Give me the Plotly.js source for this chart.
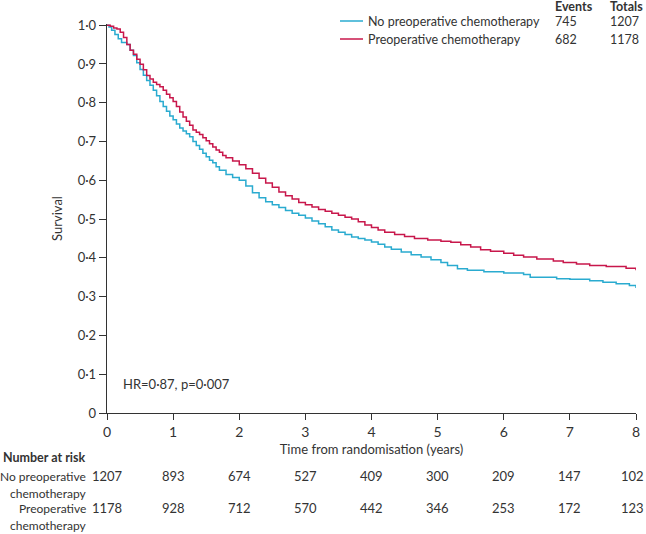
<!DOCTYPE html>
<html>
<head>
<meta charset="utf-8">
<script src="https://cdn.plot.ly/plotly-3.0.1.min.js"></script>
<style>html,body{margin:0;padding:0;background:#fff;}#chart{width:646px;height:534px;}</style>
</head>
<body>
<div id="chart"></div>
<script>
// ---- data ----
const noChemoTime = [0,0.03,0.07,0.12,0.17,0.22,0.3,0.35,0.4,0.45,0.5,0.55,0.6,0.65,0.7,0.75,0.8,0.85,0.9,0.95,1.0,1.05,1.1,1.15,1.2,1.25,1.3,1.35,1.4,1.45,1.5,1.55,1.6,1.65,1.7,1.8,1.9,2.0,2.1,2.2,2.3,2.4,2.5,2.6,2.7,2.8,2.9,3.0,3.1,3.2,3.3,3.4,3.5,3.6,3.7,3.8,3.9,4.0,4.1,4.2,4.3,4.45,4.6,4.75,4.9,5.05,5.15,5.3,5.45,5.7,6.0,6.3,6.4,6.8,7.0,7.3,7.5,7.7,7.9,8.0];
const noChemoSurv = [1.0,0.995,0.987,0.976,0.965,0.955,0.95,0.935,0.922,0.903,0.886,0.871,0.857,0.845,0.832,0.818,0.803,0.79,0.778,0.766,0.756,0.745,0.735,0.727,0.72,0.712,0.7,0.69,0.68,0.67,0.661,0.652,0.645,0.635,0.626,0.615,0.607,0.6,0.585,0.568,0.555,0.545,0.537,0.53,0.522,0.515,0.51,0.503,0.495,0.488,0.48,0.472,0.466,0.46,0.454,0.45,0.446,0.441,0.435,0.428,0.422,0.415,0.408,0.402,0.395,0.388,0.38,0.372,0.368,0.364,0.361,0.357,0.35,0.346,0.345,0.341,0.337,0.333,0.329,0.322];

const preChemoTime = [0,0.05,0.1,0.15,0.2,0.25,0.3,0.35,0.4,0.45,0.5,0.55,0.6,0.65,0.7,0.75,0.8,0.85,0.9,0.95,1.0,1.05,1.1,1.15,1.2,1.25,1.3,1.35,1.4,1.45,1.5,1.55,1.6,1.65,1.7,1.75,1.8,1.9,2.0,2.1,2.2,2.3,2.4,2.5,2.6,2.7,2.8,2.9,3.0,3.1,3.2,3.3,3.4,3.5,3.6,3.7,3.8,3.9,4.0,4.1,4.2,4.35,4.5,4.65,4.85,5.05,5.2,5.35,5.5,5.65,5.8,6.0,6.15,6.3,6.5,6.75,6.9,7.1,7.3,7.55,7.85,8.0];
const preChemoSurv = [1.0,0.997,0.993,0.99,0.982,0.968,0.95,0.935,0.925,0.912,0.899,0.885,0.870,0.861,0.853,0.847,0.841,0.832,0.822,0.813,0.803,0.79,0.776,0.763,0.752,0.742,0.73,0.724,0.718,0.71,0.702,0.694,0.686,0.678,0.672,0.664,0.658,0.65,0.64,0.63,0.618,0.605,0.593,0.582,0.57,0.56,0.552,0.543,0.537,0.531,0.525,0.52,0.515,0.51,0.505,0.5,0.493,0.485,0.478,0.472,0.466,0.46,0.455,0.45,0.446,0.443,0.44,0.434,0.428,0.421,0.417,0.412,0.407,0.402,0.397,0.392,0.388,0.384,0.38,0.378,0.373,0.368];

const seriesNames = ["No preoperative chemotherapy", "Preoperative chemotherapy"];
const events = ["745", "682"];
const totals = ["1207", "1178"];

const riskTimes = [0,1,2,3,4,5,6,7,8];
const riskNoChemo = [1207,893,674,527,409,300,209,147,102];
const riskPreChemo = [1178,928,712,570,442,346,253,172,123];

const yTickVals = [0,0.1,0.2,0.3,0.4,0.5,0.6,0.7,0.8,0.9,1.0];
const yTickText = ["0","0·1","0·2","0·3","0·4","0·5","0·6","0·7","0·8","0·9","1·0"];
const xTickVals = [0,1,2,3,4,5,6,7,8];
const hrText = "HR=0·87, p=0·007";

// ---- styles ----
const BLUE = "#2aabd0";
const RED = "#c8174b";
const TXT = "#333333";
const FONT = "Lato";
const FS = 13;
const FSL = 12.5;

const traces = [
  {x: noChemoTime, y: noChemoSurv, mode: "lines", line: {color: BLUE, width: 1.5, shape: "hv"}, name: seriesNames[0], showlegend: false},
  {x: preChemoTime, y: preChemoSurv, mode: "lines", line: {color: RED, width: 1.5, shape: "hv"}, name: seriesNames[1], showlegend: false}
];

const W = 646, PL = 107, PR = 10, PT = 24, PB = 121;
const plotW = W - PL - PR, plotH = 534 - PT - PB;
function px2paperX(px){ return (px - PL) / plotW; }
function py2paperY(py){ return (534 - PB - py) / plotH; }

function txt(s, x, y, anchor, size) {
  return {text: s, xref: "paper", yref: "paper", x: px2paperX(x), y: py2paperY(y), xanchor: anchor, yanchor: "middle", showarrow: false, borderpad: 0, font: {family: FONT, size: size || FS, color: TXT}};
}

const ann = [];
const shapes = [];
ann.push(txt(hrText, 122, 384, "left"));

// Legend
ann.push(txt("<b>Events</b>", 554, 7, "left", FSL));
ann.push(txt("<b>Totals</b>", 609, 7, "left", FSL));
const legY = [21, 39];
const legCol = [BLUE, RED];
for (let i = 0; i < 2; i++) {
  shapes.push({type: "line", xref: "paper", yref: "paper", x0: px2paperX(340), x1: px2paperX(363), y0: py2paperY(legY[i]), y1: py2paperY(legY[i]), line: {color: legCol[i], width: 1.5}});
  ann.push(txt(seriesNames[i], 367, legY[i], "left", FSL));
  ann.push(txt(events[i], 554, legY[i] + 1, "left", FSL));
  ann.push(txt(totals[i], 609, legY[i] + 1, "left", FSL));
}

// Number at risk table
ann.push(txt("<b>Number at risk</b>", 2, 458, "left", FSL));
const rowLabels = [["No preoperative", "chemotherapy"], ["Preoperative", "chemotherapy"]];
const rowY = [476, 508];
const rowData = [riskNoChemo, riskPreChemo];
for (let r = 0; r < 2; r++) {
  ann.push(txt(rowLabels[r][0], 87, rowY[r], "right", 12));
  ann.push(txt(rowLabels[r][1], 87, rowY[r] + 17, "right", 12));
  for (let k = 0; k < riskTimes.length; k++) {
    const last = k === riskTimes.length - 1;
    ann.push({text: String(rowData[r][k]), xref: "x", yref: "paper", x: riskTimes[k], y: py2paperY(rowY[r]),
      xanchor: last ? "right" : "center", xshift: last ? 9 : 0, yanchor: "middle", showarrow: false, borderpad: 0,
      font: {family: FONT, size: FS, color: TXT}});
  }
}

const layout = {
  width: 646, height: 534,
  margin: {l: PL, r: PR, t: PT, b: PB, pad: 0},
  paper_bgcolor: "#fff", plot_bgcolor: "#fff",
  font: {family: FONT, size: FS, color: TXT},
  showlegend: false,
  xaxis: {
    range: [0, 8], tickvals: xTickVals, ticks: "outside", ticklen: 6, tickwidth: 1, tickcolor: TXT,
    showline: true, linecolor: TXT, linewidth: 1.3, showgrid: false, zeroline: false,
    tickfont: {family: FONT, size: 14, color: TXT},
    title: {text: "Time from randomisation (years)", font: {family: FONT, size: FS, color: TXT}, standoff: 5}
  },
  yaxis: {
    range: [0, 1.003], tickvals: yTickVals, ticktext: yTickText, ticks: "outside", ticklen: 7, tickwidth: 1, tickcolor: TXT,
    showline: true, linecolor: TXT, linewidth: 1.3, showgrid: false, zeroline: false,
    tickfont: {family: FONT, size: FS, color: TXT},
    title: {text: "Survival", font: {family: FONT, size: FS, color: TXT}, standoff: 12}
  },
  annotations: ann,
  shapes: shapes
};

Plotly.newPlot("chart", traces, layout, {displayModeBar: false, staticPlot: true});
</script>
</body>
</html>
